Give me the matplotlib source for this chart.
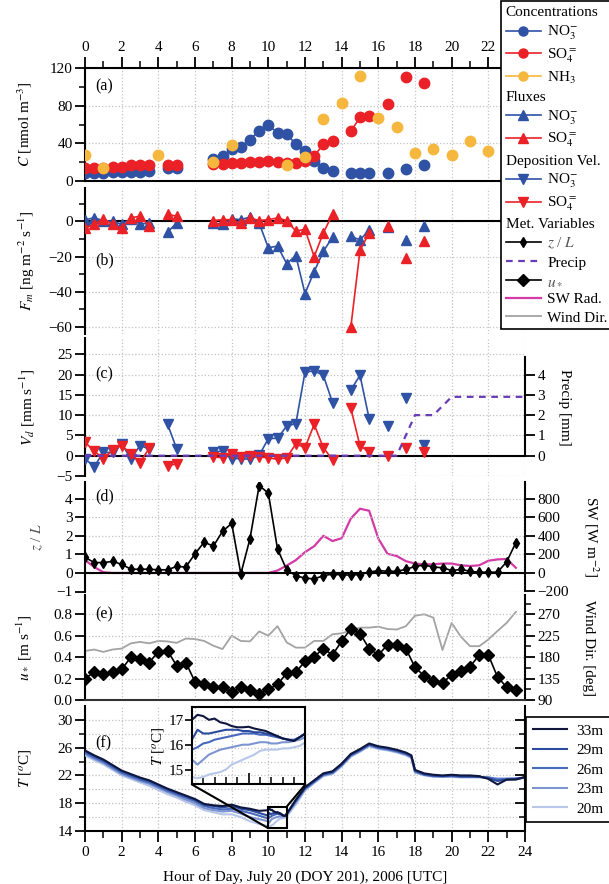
import numpy as np
import matplotlib
matplotlib.use('Agg')
import matplotlib.pyplot as plt
from matplotlib.lines import Line2D
from matplotlib.patches import Rectangle, ConnectionPatch
from matplotlib.ticker import MultipleLocator, FormatStrFormatter

plt.rcParams['font.family'] = ['Liberation Serif', 'DejaVu Serif']
plt.rcParams['mathtext.fontset'] = 'stix'
plt.rcParams['font.size'] = 10

# ---------------- data ----------------
t_ion = [0, 0.5, 1, 1.5, 2, 2.5, 3, 3.5, 4.5, 5, 7, 7.5, 8, 8.5, 9, 9.5, 10, 10.5,
         11, 11.5, 12, 12.5, 13, 13.5, 14.5, 15, 15.5, 16.5, 17.5, 18.5]
conc_no3 = [8.5, 8.5, 8.5, 9.5, 9.5, 9.5, 10, 11, 13.4, 14, 23, 27, 33.5, 36, 44, 53.6,
            59, 51.5, 50, 39, 32, 21.5, 14, 10.6, 8.8, 8.8, 8, 8, 12.4, 16.6]
conc_so4 = [13.4, 13.4, 14, 14.5, 15, 16.5, 16.5, 16.5, 17, 16.5, 18.5, 18.5, 19, 19, 20,
            20, 21, 20, 19, 19, 21.5, 26.5, 39, 43, 53, 67.5, 69, 82, 110, 104]
t_nh3 = [0, 1, 4, 7, 8, 11, 12, 13, 14, 15, 16, 17, 18, 19, 20, 21, 22]
conc_nh3 = [27.5, 14, 27.5, 20, 38, 17.3, 25.4, 66, 83, 111.5, 66.4, 57, 29.3, 34.2,
            27.5, 42, 31.5]
flux_no3 = [1, 2, 0.5, 0, -1.5, 1.5, -1.5, -1, -6, -1, -1, -1.5, 1.5, 1, 2.5, -1, -15,
            -14, -24, -19.5, -41, -28.5, -17, -9, -8.5, -10.5, -5, -3, -10.5, -2.5]
flux_so4 = [-4, -1.5, 1.5, -1.5, -4, 2, 3, -2.5, 4, 3, 0.5, 1, 1, -1, 2, 0.5, 1, 2, 0.5,
            -5.5, -4.5, -20, -6.5, 4, -60, -16.5, -6.5, -2.5, -21, -11]
vd_no3 = [-0.75, -2.7, 0.8, 0.8, 3, -0.8, 2.5, 1.7, 7.8, 1.7, 0.8, 1.2, -0.7, -0.7, -0.9,
          0.1, 4.2, 4.3, 7.3, 7.9, 20.6, 20.9, 19.8, 13.1, 16.2, 19.8, 9.1, 7.3, 14.2, 2.7]
vd_so4 = [3.3, 1.2, -0.8, 1.4, 2.5, 0.5, -1.7, 1.8, -2.5, -2, -0.3, -0.5, 0.5, -0.3, 0,
          -0.3, -0.5, -0.9, -0.5, 2.9, 2, 7.7, 2, -1, 11.7, 2.4, 1, -0.1, 2, 1]

t_precip = list(range(25))
precip = [0, 0, 0, 0, 0, 0, 0, 0, 0, 0, 0, 0, 0, 0, 0, 0, 0, 0, 2.0, 2.0, 2.9, 2.9, 2.9,
          2.9, 2.9]

t_met = list(np.arange(0, 24, 0.5))
zL = [0.84, 0.56, 0.56, 0.62, 0.47, 0.2, 0.2, 0.2, 0.17, 0.17, 0.35, 0.32, 1.03, 1.66,
      1.44, 2.24, 2.67, -0.05, 1.85, 4.71, 4.3, 1.29, 0.17, -0.15, -0.28, -0.32, -0.15,
      -0.06, -0.11, -0.11, -0.09, 0.04, 0.13, 0.09, 0.09, 0.19, 0.35, 0.43, 0.32, 0.28,
      0.13, 0.19, 0.09, 0.04, 0.04, 0.04, 0.6, 1.63]
sw = [138, 64, 8, 0, 0, 0, 0, 0, 0, 0, 0, 0, 0, 0, 0, 0, 0, 0, 0, 0, 0, 26, 79, 138, 224,
      288, 400, 344, 374, 587, 692, 670, 370, 206, 183, 127, 101, 93, 93, 101, 101, 82,
      75, 82, 131, 146, 150, 56]
ustar = [0.2, 0.26, 0.245, 0.26, 0.285, 0.4, 0.385, 0.35, 0.45, 0.46, 0.32, 0.35, 0.17,
         0.145, 0.12, 0.12, 0.075, 0.12, 0.095, 0.055, 0.1, 0.145, 0.25, 0.26, 0.36,
         0.405, 0.48, 0.42, 0.55, 0.665, 0.62, 0.48, 0.42, 0.515, 0.515, 0.48, 0.305,
         0.225, 0.18, 0.16, 0.235, 0.27, 0.31, 0.42, 0.42, 0.215, 0.12, 0.095]
wind_dir = [193, 196, 191, 196, 198, 209, 212, 209, 214, 213, 210, 219, 218, 214, 204,
            197, 225, 214, 213, 234, 225, 245, 211, 200, 200, 214, 214, 228, 230, 236,
            242, 242, 244, 239, 238, 245, 267, 270, 263, 195, 252, 223, 203, 203, 217,
            235, 252, 275]

t_T = [0, 0.5, 1, 1.5, 2, 2.5, 3, 3.5, 4, 4.5, 5, 5.5, 6, 6.5, 7, 7.5, 8, 8.5, 9, 9.5,
       11.5, 12, 12.5, 13, 13.5, 14, 14.5, 15, 15.5, 16, 16.5, 17, 17.5, 17.8,
       18, 18.5, 19, 19.5, 20, 20.5, 21, 21.5, 22, 22.5, 23, 23.5, 24]
T33 = [25.6, 24.9, 24.3, 23.5, 22.7, 22.2, 21.7, 21.3, 20.7, 20.1, 19.6, 19.1, 18.6, 17.9,
       17.7, 17.6, 17.8, 17.4, 17.2, 16.9, 18.5, 20.3, 21.3, 22.3, 22.6, 23.7, 25.1, 25.8,
       26.6, 26.2, 26.0, 25.7, 25.3, 24.9, 22.8, 22.3, 22.1, 22.0, 22.1, 22.0, 22.0, 21.9,
       21.5, 20.7, 21.4, 21.4, 21.8]
T29 = [25.5, 24.8, 24.2, 23.4, 22.6, 22.1, 21.6, 21.2, 20.6, 20.0, 19.5, 19.0, 18.5, 17.8,
       17.6, 17.4, 17.6, 17.2, 17.0, 16.6, 18.4, 20.2, 21.2, 22.2, 22.5, 23.6, 25.0, 25.7,
       26.5, 26.1, 25.9, 25.6, 25.2, 24.8, 22.7, 22.2, 22.0, 21.9, 22.0, 21.9, 21.9, 21.8,
       21.6, 21.2, 21.4, 21.5, 21.7]
T26 = [25.3, 24.6, 24.0, 23.2, 22.4, 21.9, 21.4, 21.0, 20.4, 19.8, 19.3, 18.8, 18.3, 17.6,
       17.3, 17.1, 17.2, 16.9, 16.6, 16.2, 18.3, 20.1, 21.1, 22.1, 22.4, 23.5, 24.9, 25.6,
       26.4, 26.0, 25.8, 25.5, 25.1, 24.7, 22.6, 22.1, 21.9, 21.9, 21.9, 21.8, 21.8, 21.8,
       21.7, 21.4, 21.5, 21.5, 21.7]
T23 = [25.1, 24.4, 23.8, 23.0, 22.2, 21.7, 21.2, 20.8, 20.2, 19.6, 19.1, 18.5, 18.0, 17.3,
       17.0, 16.8, 16.9, 16.5, 16.0, 15.7, 18.1, 20.0, 21.0, 22.0, 22.3, 23.4, 24.8, 25.5,
       26.3, 25.9, 25.7, 25.4, 25.0, 24.6, 22.5, 22.1, 21.9, 21.8, 21.9, 21.8, 21.8, 21.8,
       21.7, 21.5, 21.5, 21.6, 21.7]
T20 = [24.9, 24.2, 23.6, 22.8, 22.0, 21.5, 21.0, 20.5, 19.9, 19.3, 18.8, 18.2, 17.7, 17.0,
       16.7, 16.4, 16.4, 16.0, 15.4, 15.0, 17.8, 19.8, 20.9, 21.9, 22.2, 23.3, 24.7, 25.4,
       26.2, 25.8, 25.6, 25.3, 24.9, 24.5, 22.4, 22.0, 21.8, 21.8, 21.8, 21.7, 21.7, 21.7,
       21.7, 21.6, 21.6, 21.6, 21.6]
# detailed 10-11 h record (inset)
t_Tfine = [10.0, 10.05, 10.1, 10.15, 10.2, 10.25, 10.3, 10.35, 10.4, 10.45, 10.5, 10.55,
           10.6, 10.65, 10.7, 10.75, 10.8, 10.85, 10.9, 10.95, 11.0]
T33f = [17.0, 17.2, 17.15, 17.0, 17.05, 16.9, 16.85, 16.75, 16.7, 16.7, 16.72, 16.65,
        16.6, 16.55, 16.45, 16.35, 16.25, 16.2, 16.15, 16.3, 16.45]
T29f = [16.2, 16.6, 16.45, 16.45, 16.5, 16.55, 16.6, 16.6, 16.6, 16.55, 16.55, 16.5, 16.5,
        16.45, 16.4, 16.35, 16.25, 16.2, 16.15, 16.3, 16.45]
T26f = [15.8, 15.9, 16.05, 16.1, 16.2, 16.25, 16.3, 16.35, 16.4, 16.45, 16.45, 16.45, 16.4,
        16.4, 16.35, 16.3, 16.25, 16.2, 16.2, 16.3, 16.45]
T23f = [15.4, 15.2, 15.4, 15.6, 15.7, 15.8, 15.85, 15.9, 15.95, 16.0, 16.0, 16.05, 16.1,
        16.1, 16.05, 16.05, 16.1, 16.1, 16.15, 16.2, 16.3]
T20f = [14.7, 14.65, 14.7, 14.8, 14.85, 14.9, 15.0, 15.2, 15.3, 15.4, 15.5, 15.6, 15.75,
        15.8, 15.8, 15.8, 15.85, 15.85, 15.9, 15.95, 16.1]
heights = ['33m', '29m', '26m', '23m', '20m']

# ---------------- style ----------------
BLUE = '#2f52a5'
RED = '#ea2127'
YEL = '#f5b73d'
PURP = '#6a3db8'
MAG = '#d33aa6'
GRAY = '#a3a3a3'
T_COLS = ['#0f173f', '#2b4b9f', '#4768bb', '#7c95d1', '#b8c7e9']
GRIDKW = dict(color='#c4c4c4', linestyle=':', linewidth=0.9)
FS = 11
LFS = 11


def gaps(t, v, step=0.5):
    t = np.asarray(t, float)
    v = np.asarray(v, float)
    ot, ov = [t[0]], [v[0]]
    for i in range(1, len(t)):
        if t[i] - t[i - 1] > step + 1e-6:
            ot.append(np.nan)
            ov.append(np.nan)
        ot.append(t[i])
        ov.append(v[i])
    return np.array(ot), np.array(ov)


W, H = 609, 884
fig = plt.figure(figsize=(W / 100, H / 100), dpi=100)


def pos(top, bot):
    return [85 / W, 1 - bot / H, 440 / W, (bot - top) / H]


def base(ax, ylim):
    ax.set_xlim(0, 24)
    ax.set_ylim(*ylim)
    ax.patch.set_alpha(0)
    for s in ['top', 'right', 'bottom']:
        ax.spines[s].set_visible(False)
    ax.spines['left'].set_linewidth(1.5)
    ax.xaxis.set_major_locator(MultipleLocator(2))
    ax.xaxis.set_minor_locator(MultipleLocator(1))
    ax.tick_params(axis='x', which='both', length=0, labelbottom=False)
    ax.tick_params(axis='y', which='major', direction='out', length=7, width=1.3,
                   labelsize=FS, pad=2)
    ax.tick_params(axis='y', which='minor', direction='out', length=4, width=1.1)
    ax.grid(True, which='major', **GRIDKW)
    ax.set_axisbelow(True)


def rlabel(ax, text, x):
    ax.set_ylabel(text, fontsize=LFS, rotation=270, va='bottom')
    ax.yaxis.set_label_coords(x, 0.5)


def llabel(ax, text, x, **kw):
    ax.set_ylabel(text, fontsize=LFS, **kw)
    ax.yaxis.set_label_coords(x, 0.5)


def right_spine(ax):
    for s in ['top', 'left', 'bottom']:
        ax.spines[s].set_visible(False)
    ax.spines['right'].set_linewidth(1.5)


# ---- (a) concentrations
axa = fig.add_axes(pos(68, 181))
base(axa, (0, 120))
axa.spines['top'].set_visible(True)
axa.spines['top'].set_linewidth(1.5)
axa.spines['bottom'].set_visible(True)
axa.spines['bottom'].set_linewidth(1.5)
axa.xaxis.tick_top()
axa.tick_params(axis='x', which='major', length=8, width=1.3, direction='out',
                labeltop=True, labelbottom=False, labelsize=FS, pad=2, bottom=False)
axa.tick_params(axis='x', which='minor', length=5, width=1.1, direction='out', bottom=False)
axa.yaxis.set_major_locator(MultipleLocator(40))
axa.yaxis.set_minor_locator(MultipleLocator(20))
axa.plot(*gaps(t_ion, conc_no3), 'o-', color=BLUE, ms=7.5, lw=1.2, zorder=3)
axa.plot(*gaps(t_ion, conc_so4), 'o-', color=RED, ms=7.5, lw=1.2, zorder=3)
axa.plot(*gaps(t_nh3, conc_nh3), 'o-', color=YEL, ms=7.5, lw=1.2, zorder=3)
axa.text(1.05, 100, '(a)', fontsize=FS + 0.5, ha='center', va='center')
llabel(axa, r'$C$ [nmol m$^{-3}$]', -0.115)

# ---- (b) fluxes
axb = fig.add_axes(pos(188, 334))
base(axb, (-64, 19))
axb.yaxis.set_major_locator(MultipleLocator(20))
axb.yaxis.set_minor_locator(MultipleLocator(10))
axb.axhline(0, color='k', lw=1.5, zorder=2)
axb.plot(*gaps(t_ion, flux_no3), '^-', color=BLUE, ms=7.5, lw=1.2, zorder=3)
axb.plot(*gaps(t_ion, flux_so4), '^-', color=RED, ms=7.5, lw=1.2, zorder=3)
axb.text(1.05, -22, '(b)', fontsize=FS + 0.5, ha='center', va='center')
llabel(axb, r'$F_m$ [ng m$^{-2}$ s$^{-1}$]', -0.11)

# ---- (c) deposition velocity + precip
axc = fig.add_axes(pos(338, 476))
vd_lim = (-5, 29)
base(axc, vd_lim)
axc.yaxis.set_major_locator(MultipleLocator(5))
axc.axhline(0, color='k', lw=1.5, zorder=2)
axc.plot(*gaps(t_ion, vd_no3), 'v-', color=BLUE, ms=7.5, lw=1.2, zorder=3)
axc.plot(*gaps(t_ion, vd_so4), 'v-', color=RED, ms=7.5, lw=1.2, zorder=3)
axc.text(1.05, 20, '(c)', fontsize=FS + 0.5, ha='center', va='center')
llabel(axc, r'$V_d$ [mm s$^{-1}$]', -0.11)
axc2 = axc.twinx()
axc2.set_ylim(vd_lim[0] / 5, vd_lim[1] / 5)
axc2.plot(t_precip, precip, '--', color=PURP, lw=1.6, dashes=(3, 2.5), zorder=4)
right_spine(axc2)
axc2.spines['right'].set_bounds(0, 4.85)
axc2.set_yticks([0, 1, 2, 3, 4])
axc2.tick_params(axis='y', direction='out', length=7, width=1.3, labelsize=FS, pad=2)
rlabel(axc2, 'Precip [mm]', 1.075)

# ---- (d) z/L + SW
axd = fig.add_axes(pos(482, 591.5))
zl_lim = (-1, 4.9)
base(axd, zl_lim)
axd.yaxis.set_major_locator(MultipleLocator(1))
axd.axhline(0, color='k', lw=1.5, zorder=2)
axd.plot(t_met, zL, 'd-', color='k', ms=5.5, lw=1.2, zorder=4)
axd.text(1.05, 4.15, '(d)', fontsize=FS + 0.5, ha='center', va='center')
llabel(axd, r'$z$ / $L$', -0.09, color='#555555')
axd2 = axd.twinx()
axd2.set_ylim(zl_lim[0] * 200, zl_lim[1] * 200)
axd2.plot(t_met, sw, '-', color=MAG, lw=1.6, zorder=3)
right_spine(axd2)
axd2.set_yticks([-200, 0, 200, 400, 600, 800])
axd2.tick_params(axis='y', direction='out', length=7, width=1.3, labelsize=FS, pad=2)
rlabel(axd2, r'SW [W m$^{-2}$]', 1.13)
axd.set_zorder(axd2.get_zorder() + 1)

# ---- (e) u* + wind dir
axe = fig.add_axes(pos(595, 700))
us_lim = (0, 0.98)
base(axe, us_lim)
axe.spines['bottom'].set_visible(True)
axe.spines['bottom'].set_linewidth(1.5)
axe.spines['bottom'].set_color('#333333')
axe.yaxis.set_major_locator(MultipleLocator(0.2))
axe.yaxis.set_major_formatter(FormatStrFormatter('%.1f'))
axe.plot(t_met, ustar, 'D-', color='k', ms=6.5, lw=1.2, zorder=4)
axe.text(1.05, 0.8, '(e)', fontsize=FS + 0.5, ha='center', va='center')
llabel(axe, r'$u_*$ [m s$^{-1}$]', -0.115)
axe2 = axe.twinx()
axe2.set_ylim(90 + us_lim[0] * 225, 90 + us_lim[1] * 225)
axe2.plot(t_met, wind_dir, '-', color=GRAY, lw=1.3, zorder=3)
right_spine(axe2)
axe2.set_yticks([90, 135, 180, 225, 270])
axe2.yaxis.set_minor_locator(MultipleLocator(22.5))
axe2.tick_params(axis='y', which='major', direction='out', length=7, width=1.3,
                 labelsize=FS, pad=2)
axe2.tick_params(axis='y', which='minor', direction='out', length=4, width=1.1)
rlabel(axe2, 'Wind Dir. [deg]', 1.13)
axe.set_zorder(axe2.get_zorder() + 1)

# ---- (f) temperature
axf = fig.add_axes(pos(706, 831))
Tlim = (14, 32)
T_ticks = [14, 18, 22, 26, 30]
T_minor = [16, 20, 24, 28]
base(axf, Tlim)
axf.spines['bottom'].set_visible(True)
axf.spines['bottom'].set_linewidth(1.5)
axf.set_yticks(T_ticks)
axf.set_yticks(T_minor, minor=True)
axf.grid(True, which='minor', axis='y', **GRIDKW)
axf.set_xticks(np.arange(0, 25, 2))
axf.tick_params(axis='x', which='major', length=8, width=1.3, direction='out',
                labelbottom=True, labelsize=FS, pad=3)
axf.tick_params(axis='x', which='minor', length=5, width=1.1, direction='out')
axf.set_xlabel('Hour of Day, July 20 (DOY 201), 2006 [UTC]', fontsize=LFS,
               labelpad=8)
coarse = [T33, T29, T26, T23, T20]
fine = [T33f, T29f, T26f, T23f, T20f]
series = []
for c, f in zip(coarse, fine):
    tt = np.concatenate([t_T, t_Tfine])
    vv = np.concatenate([c, f])
    o = np.argsort(tt)
    series.append((tt[o], vv[o]))
for i in range(4, -1, -1):
    axf.plot(series[i][0], series[i][1], '-', color=T_COLS[i], lw=1.5,
             label=heights[i], zorder=3 + (4 - i))
axf.text(1.0, 26.6, '(f)', fontsize=FS + 0.5, ha='center', va='center')
llabel(axf, r'$T$ [$^o$C]', -0.115)

# right ticks of (f)
axf2 = axf.twinx()
axf2.set_ylim(*Tlim)
right_spine(axf2)
axf2.set_yticks(T_ticks)
axf2.set_yticks(T_minor, minor=True)
axf2.tick_params(axis='y', which='major', direction='in', length=7, width=1.3,
                 labelright=False)
axf2.tick_params(axis='y', which='minor', direction='in', length=4, width=1.1)

# inset (placed in panel-f data coordinates)
inset_xlim = (10, 11)
inset_ylim = (14.4, 17.5)
axi = axf.inset_axes([5.83, 20.7, 6.19, 11.1], transform=axf.transData)
axi.patch.set_alpha(0)
for i in range(4, -1, -1):
    axi.plot(series[i][0], series[i][1], '-', color=T_COLS[i], lw=1.5)
axi.set_xlim(*inset_xlim)
axi.set_ylim(*inset_ylim)
for s in axi.spines.values():
    s.set_linewidth(1.5)
axi.set_xticks([10, 10.5, 11])
axi.xaxis.set_minor_locator(MultipleLocator(0.1))
axi.tick_params(axis='x', which='major', direction='in', length=8, width=1.2,
                labelbottom=False)
axi.tick_params(axis='x', which='minor', direction='in', length=5, width=1.1)
axi.set_yticks([15, 16, 17])
axi.tick_params(axis='y', direction='out', length=5, width=1.2, labelsize=FS, pad=1)
axi.set_ylabel(r'$T$ [$^o$C]', fontsize=FS, labelpad=1)
rect = Rectangle((inset_xlim[0], inset_ylim[0]), inset_xlim[1] - inset_xlim[0],
                 inset_ylim[1] - inset_ylim[0], fill=False, ec='k', lw=1.5, zorder=8)
axf.add_patch(rect)
for xa, xb, yb in [(0, inset_xlim[0], inset_ylim[0]), (1, inset_xlim[1], inset_ylim[1])]:
    cp = ConnectionPatch(xyA=(xa, 0), coordsA=axi.transAxes, xyB=(xb, yb),
                         coordsB=axf.transData, color='k', lw=1.5)
    fig.add_artist(cp)

# T legend
hs, ls = axf.get_legend_handles_labels()
hmap = dict(zip(ls, hs))
legf = fig.legend([hmap[h] for h in heights], heights, loc='upper right',
                  bbox_to_anchor=(610 / W, 1 - 717 / H), frameon=True, fancybox=False,
                  edgecolor='k', framealpha=1, fontsize=LFS, handlelength=2.2,
                  handletextpad=0.6, labelspacing=0.38, borderpad=0.45,
                  borderaxespad=0)
legf.get_frame().set_linewidth(1.2)

# main legend
nohandle = Line2D([], [], linestyle='none')
handles = [
    nohandle,
    Line2D([], [], color=BLUE, marker='o', ms=6.5, lw=1.2),
    Line2D([], [], color=RED, marker='o', ms=6.5, lw=1.2),
    Line2D([], [], color=YEL, marker='o', ms=6.5, lw=1.2),
    nohandle,
    Line2D([], [], color=BLUE, marker='^', ms=6.5, lw=1.2),
    Line2D([], [], color=RED, marker='^', ms=6.5, lw=1.2),
    nohandle,
    Line2D([], [], color=BLUE, marker='v', ms=6.5, lw=1.2),
    Line2D([], [], color=RED, marker='v', ms=6.5, lw=1.2),
    nohandle,
    Line2D([], [], color='k', marker='d', ms=5.5, lw=1.2),
    Line2D([], [], color=PURP, ls='--', dashes=(3, 2.5), lw=1.6),
    Line2D([], [], color='k', marker='D', ms=6.5, lw=1.2),
    Line2D([], [], color=MAG, lw=1.6),
    Line2D([], [], color=GRAY, lw=1.3),
]
labels = ['Concentrations', r'NO$_3^{-}$', r'SO$_4^{=}$', r'NH$_3$',
          'Fluxes', r'NO$_3^{-}$', r'SO$_4^{=}$',
          'Deposition Vel.', r'NO$_3^{-}$', r'SO$_4^{=}$',
          'Met. Variables', r'$z$ / $L$', 'Precip', r'$u_*$', 'SW Rad.', 'Wind Dir.']
header_idx = [0, 4, 7, 10]
leg = fig.legend(handles, labels, loc='upper right', bbox_to_anchor=(612 / W, 1 - 1 / H),
                 frameon=True, fancybox=False, edgecolor='k', framealpha=1,
                 fontsize=LFS, handlelength=2.3, handletextpad=0.4,
                 labelspacing=0.3, borderpad=0.3, borderaxespad=0)
leg.get_frame().set_linewidth(1.2)
try:
    cols = leg._legend_handle_box.get_children()
    items = []
    for col in cols:
        items.extend(col.get_children())
    for i in header_idx:
        hp = items[i]
        hp.get_children()[0].width = 0
        hp.sep = 0
except Exception:
    pass
for i in (11, 13):
    leg.get_texts()[i].set_color('#555555')

fig.savefig('out.png', dpi=100)
